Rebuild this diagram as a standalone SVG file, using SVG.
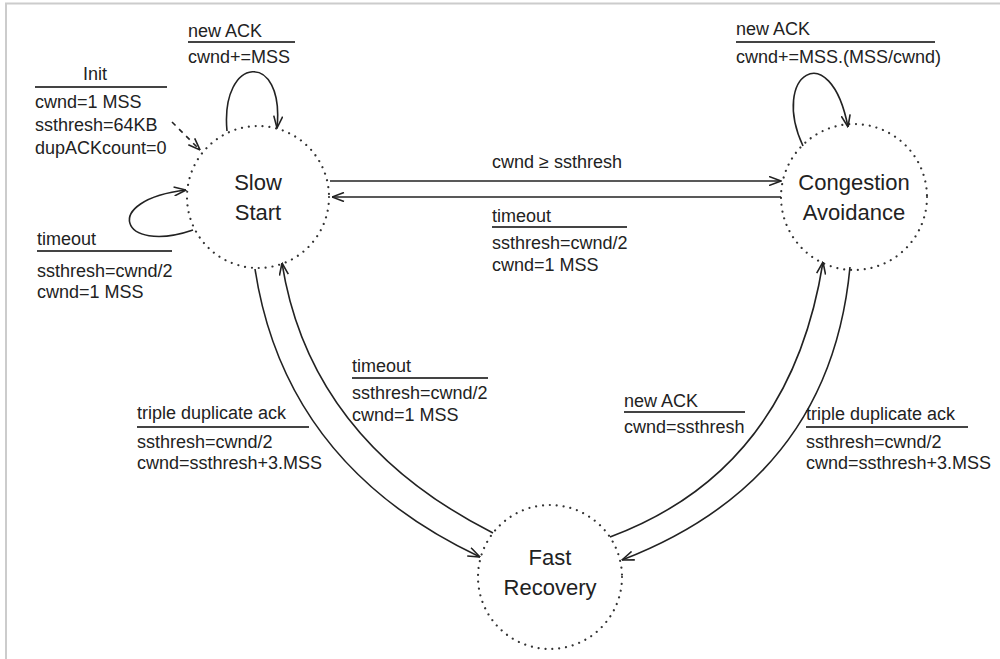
<svg xmlns="http://www.w3.org/2000/svg" width="1000" height="659" viewBox="0 0 1000 659">
<defs>
<style>
.t{font-family:"Liberation Sans",Arial,sans-serif;font-size:18px;fill:#222}
.s{font-family:"Liberation Sans",Arial,sans-serif;font-size:22px;fill:#222;text-anchor:middle}
.st{fill:none;stroke:#333;stroke-width:2.2;stroke-linecap:round;stroke-dasharray:0.01 6.9}
.c{fill:none;stroke:#222;stroke-width:1.6}
.u{stroke:#444;stroke-width:2}
</style>
<marker id="a" viewBox="0 0 13 10" refX="12.5" refY="5" markerWidth="13" markerHeight="10" markerUnits="userSpaceOnUse" orient="auto">
<path d="M0.5,0.5 L12.5,5 L0.5,9.5" fill="none" stroke="#222" stroke-width="1.6"/>
</marker>
</defs>
<rect x="0" y="0" width="1000" height="659" fill="#fff"/>
<path d="M6,659 V3.5 H1000" fill="none" stroke="#ccc" stroke-width="2"/>

<g id="slow-start">
<circle class="st" cx="258" cy="197" r="71"/>
<text class="s" x="258" y="190">Slow</text>
<text class="s" x="258" y="220">Start</text>
</g>
<g id="congestion-avoidance">
<circle class="st" cx="854" cy="197" r="73"/>
<text class="s" x="854" y="190">Congestion</text>
<text class="s" x="854" y="220">Avoidance</text>
</g>
<g id="fast-recovery">
<circle class="st" cx="550" cy="577" r="72"/>
<text class="s" x="550" y="565">Fast</text>
<text class="s" x="550" y="595">Recovery</text>
</g>

<g id="connectors">
<path class="c" d="M172,122 L200,150" stroke-dasharray="5 5" marker-end="url(#a)"/>
<path class="c" d="M227,131 C220,55 285,50 277,128" marker-end="url(#a)"/>
<path class="c" d="M193,230 C120,255 100,200 186,190" marker-end="url(#a)"/>
<path class="c" d="M803,146 C770,75 830,35 848,127" marker-end="url(#a)"/>
<path class="c" d="M330,181 L781,181" marker-end="url(#a)"/>
<path class="c" d="M781,197 L332,197" marker-end="url(#a)"/>
<path class="c" d="M255,269 Q285,465 480,557" marker-end="url(#a)"/>
<path class="c" d="M493,533 Q310,440 282,263" marker-end="url(#a)"/>
<path class="c" d="M610,537 Q790,470 823,262" marker-end="url(#a)"/>
<path class="c" d="M850,267 Q830,480 622,560" marker-end="url(#a)"/>
</g>

<g id="labels">
<text class="t" x="95" y="80" font-size="19" text-anchor="middle">Init</text>
<line class="u" x1="35" y1="87" x2="167" y2="87"/>
<text class="t" x="35" y="108">cwnd=1 MSS</text>
<text class="t" x="35" y="131">ssthresh=64KB</text>
<text class="t" x="35" y="154">dupACKcount=0</text>

<text class="t" x="188" y="37">new ACK</text>
<line class="u" x1="188" y1="42" x2="295" y2="42"/>
<text class="t" x="188" y="63">cwnd+=MSS</text>

<text class="t" x="37" y="245">timeout</text>
<line class="u" x1="37" y1="251" x2="172" y2="251"/>
<text class="t" x="37" y="277">ssthresh=cwnd/2</text>
<text class="t" x="37" y="298">cwnd=1 MSS</text>

<text class="t" x="736" y="35">new ACK</text>
<line class="u" x1="736" y1="42" x2="935" y2="42"/>
<text class="t" x="736" y="63">cwnd+=MSS.(MSS/cwnd)</text>

<text class="t" x="492" y="168">cwnd ≥ ssthresh</text>
<text class="t" x="492" y="222">timeout</text>
<line class="u" x1="492" y1="227" x2="627" y2="227"/>
<text class="t" x="492" y="249">ssthresh=cwnd/2</text>
<text class="t" x="492" y="271">cwnd=1 MSS</text>

<text class="t" x="352" y="372">timeout</text>
<line class="u" x1="352" y1="378" x2="488" y2="378"/>
<text class="t" x="352" y="399">ssthresh=cwnd/2</text>
<text class="t" x="352" y="421">cwnd=1 MSS</text>

<text class="t" x="137" y="419">triple duplicate ack</text>
<line class="u" x1="137" y1="427" x2="309" y2="427"/>
<text class="t" x="137" y="448">ssthresh=cwnd/2</text>
<text class="t" x="137" y="469">cwnd=ssthresh+3.MSS</text>

<text class="t" x="624" y="407">new ACK</text>
<line class="u" x1="624" y1="412" x2="745" y2="412"/>
<text class="t" x="624" y="433">cwnd=ssthresh</text>

<text class="t" x="806" y="420">triple duplicate ack</text>
<line class="u" x1="806" y1="427" x2="968" y2="427"/>
<text class="t" x="806" y="448">ssthresh=cwnd/2</text>
<text class="t" x="806" y="469">cwnd=ssthresh+3.MSS</text>
</g>
</svg>
